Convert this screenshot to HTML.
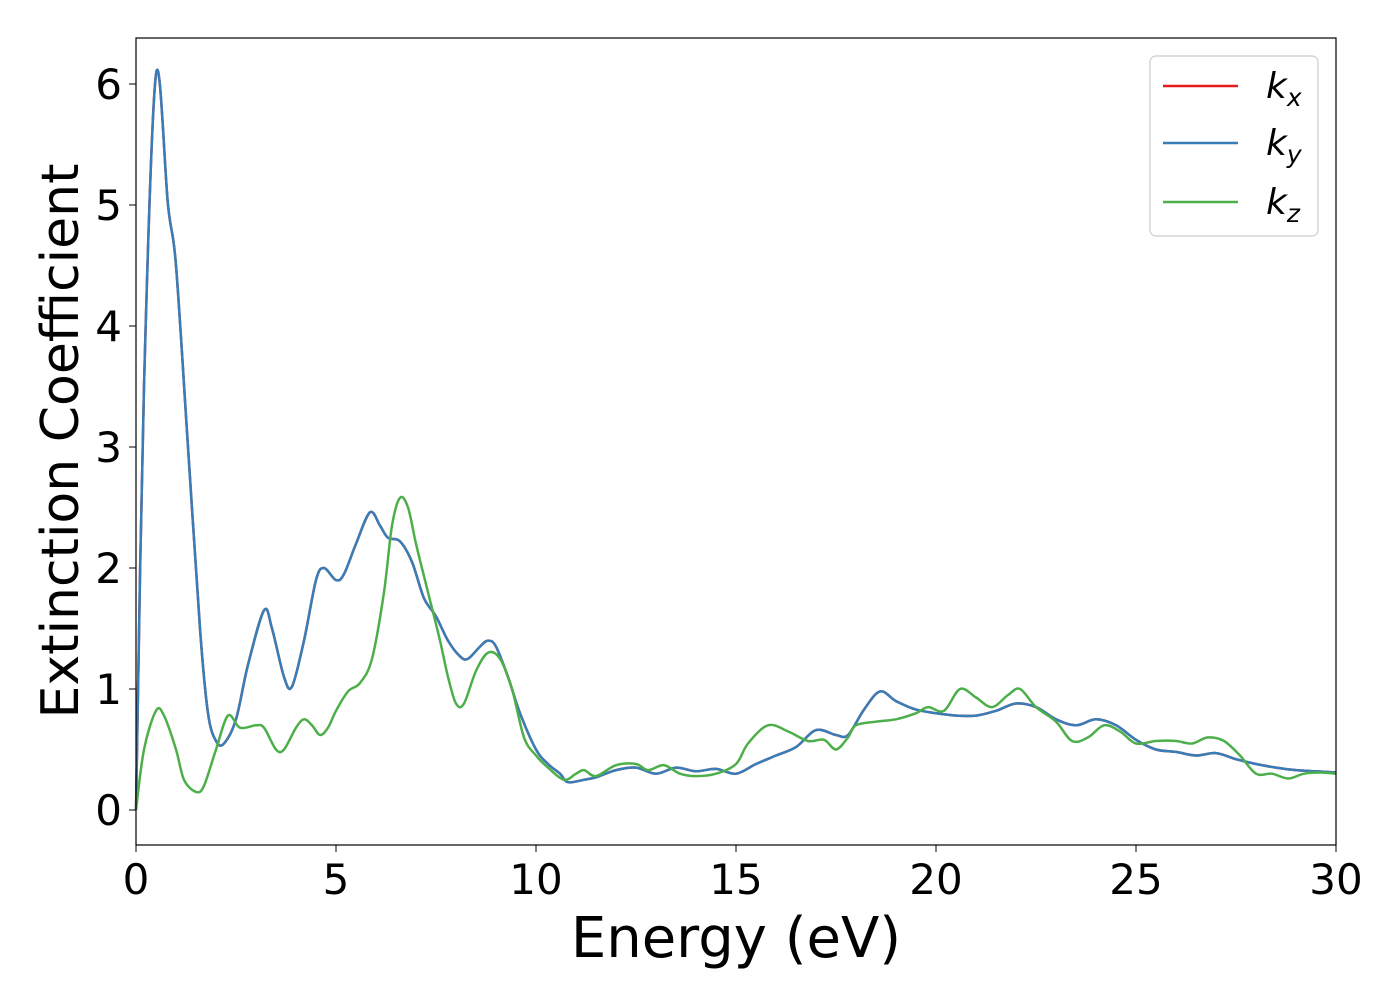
<!DOCTYPE html>
<html><head><meta charset="utf-8"><style>
body{margin:0;background:#fff}
svg text{font-family:"DejaVu Sans","Liberation Sans",sans-serif}
</style></head><body>
<svg id="chart" width="1400" height="1000" viewBox="0 0 1400 1000" xmlns="http://www.w3.org/2000/svg">
<rect width="1400" height="1000" fill="#fff"/>
<g id="plot"></g>
<rect x="136" y="38" width="1200" height="807" fill="none" stroke="#000" stroke-width="1.2"/>
<g id="ticks"></g>
<text x="736" y="957" font-size="56" text-anchor="middle">Energy (eV)</text>
<text transform="translate(78,441) rotate(-90)" font-size="52" text-anchor="middle">Extinction Coefficient</text>
<g>
<rect x="1150" y="56" width="168" height="180" rx="6" fill="#fff" stroke="#ccc" stroke-width="1.2"/>
<line x1="1163" y1="86" x2="1238" y2="86" stroke="#e41a1c" stroke-width="2.5"/>
<text x="1266" y="98" font-size="36" font-style="italic">k<tspan font-size="25" dy="8">x</tspan></text>
<line x1="1163" y1="143" x2="1238" y2="143" stroke="#377eb8" stroke-width="2.5"/>
<text x="1266" y="155" font-size="36" font-style="italic">k<tspan font-size="25" dy="8">y</tspan></text>
<line x1="1163" y1="202" x2="1238" y2="202" stroke="#4daf4a" stroke-width="2.5"/>
<text x="1266" y="214" font-size="36" font-style="italic">k<tspan font-size="25" dy="8">z</tspan></text>
</g>
</svg>
<script>
const energyXY=[0,0.2,0.5,0.8,1.0,1.3,1.6,1.8,2.0,2.2,2.5,2.8,3.2,3.4,3.7,3.9,4.2,4.5,4.7,5.0,5.2,5.5,5.85,6.1,6.3,6.6,6.9,7.2,7.5,7.8,8.1,8.3,8.6,8.8,9.0,9.3,9.6,10.0,10.3,10.6,10.8,11.2,11.5,12,12.5,13,13.5,14,14.5,15,15.5,16,16.5,17,17.5,17.8,18.2,18.6,19,19.5,20,20.5,21,21.5,22,22.5,23,23.5,24,24.5,25,25.5,26,26.5,27,27.5,28,28.5,29,29.5,30];
const kxValues=[0,3.5,6.08,5.0,4.5,3,1.5,0.8,0.57,0.55,0.75,1.2,1.65,1.5,1.1,1.02,1.4,1.9,2.0,1.9,1.95,2.2,2.46,2.35,2.25,2.22,2.05,1.75,1.6,1.4,1.27,1.25,1.35,1.4,1.35,1.1,0.8,0.5,0.38,0.3,0.23,0.25,0.27,0.33,0.35,0.3,0.35,0.32,0.34,0.3,0.38,0.45,0.52,0.66,0.62,0.62,0.83,0.98,0.9,0.83,0.8,0.78,0.78,0.82,0.88,0.85,0.75,0.7,0.75,0.7,0.58,0.5,0.48,0.45,0.47,0.42,0.38,0.35,0.33,0.32,0.31];
const kyValues=kxValues.slice();
const energyZ=[0,0.2,0.5,0.7,1.0,1.2,1.5,1.7,2.0,2.3,2.6,3.0,3.2,3.5,3.7,4.0,4.2,4.4,4.6,4.8,5.0,5.3,5.6,5.9,6.2,6.4,6.6,6.8,7.0,7.3,7.6,7.8,8.0,8.2,8.5,8.8,9.1,9.4,9.7,10.0,10.3,10.7,11,11.2,11.5,12,12.5,12.8,13.2,13.6,14,14.5,15,15.3,15.8,16.3,16.8,17.2,17.5,17.8,18,18.5,19,19.5,19.8,20.2,20.6,21,21.4,21.8,22.1,22.5,23,23.4,23.8,24.2,24.6,25,25.5,26,26.4,26.8,27.2,27.6,28,28.4,28.8,29.2,29.6,30];
const kzValues=[0,0.5,0.82,0.78,0.5,0.25,0.15,0.2,0.5,0.78,0.68,0.7,0.68,0.5,0.5,0.68,0.75,0.7,0.62,0.68,0.82,0.98,1.05,1.25,1.8,2.35,2.58,2.5,2.2,1.8,1.4,1.1,0.88,0.88,1.15,1.3,1.25,1.0,0.6,0.45,0.35,0.25,0.3,0.33,0.28,0.37,0.38,0.33,0.37,0.3,0.28,0.3,0.38,0.55,0.7,0.65,0.57,0.58,0.5,0.6,0.7,0.73,0.75,0.8,0.85,0.82,1.0,0.93,0.85,0.95,1.0,0.85,0.73,0.57,0.6,0.7,0.65,0.55,0.57,0.57,0.55,0.6,0.57,0.45,0.3,0.3,0.26,0.3,0.31,0.3];
const xTicks=[0,5,10,15,20,25,30];
const yTicks=[0,1,2,3,4,5,6];
const NS="http://www.w3.org/2000/svg";
const X=v=>136+v*40, Y=v=>810-v*121;
function pathD(xs,ys){
  const p=xs.map((x,i)=>[X(x),Y(ys[i])]);
  let d="M"+p[0][0]+","+p[0][1];
  for(let i=0;i<p.length-1;i++){
    const p0=p[Math.max(0,i-1)],p1=p[i],p2=p[i+1],p3=p[Math.min(p.length-1,i+2)];
    const c1=[p1[0]+(p2[0]-p0[0])/6,p1[1]+(p2[1]-p0[1])/6];
    const c2=[p2[0]-(p3[0]-p1[0])/6,p2[1]-(p3[1]-p1[1])/6];
    d+=` C${c1[0].toFixed(1)},${c1[1].toFixed(1)} ${c2[0].toFixed(1)},${c2[1].toFixed(1)} ${p2[0].toFixed(1)},${p2[1].toFixed(1)}`;
  }
  return d;
}
const plot=document.getElementById('plot');
[["kx-line",energyXY,kxValues,"#e41a1c"],["ky-line",energyXY,kyValues,"#377eb8"],["kz-line",energyZ,kzValues,"#4daf4a"]].forEach(s=>{
  const el=document.createElementNS(NS,'path');
  
  
  el.setAttribute('d',pathD(s[1],s[2]));
  el.setAttribute('fill','none');el.setAttribute('stroke',s[3]);el.setAttribute('stroke-width','2.5');
  plot.appendChild(el);
});
const tg=document.getElementById('ticks');
xTicks.forEach(v=>{
  const l=document.createElementNS(NS,'line');
  
  
  l.setAttribute('x1',X(v));l.setAttribute('x2',X(v));l.setAttribute('y1',845);l.setAttribute('y2',852);l.setAttribute('stroke','#000');
  tg.appendChild(l);
  const t=document.createElementNS(NS,'text');
  
  
  t.setAttribute('x',X(v));t.setAttribute('y',894);t.setAttribute('font-size','42');t.setAttribute('text-anchor','middle');
  t.textContent=v;tg.appendChild(t);
});
yTicks.forEach(v=>{
  const l=document.createElementNS(NS,'line');
  
  
  l.setAttribute('x1',129);l.setAttribute('x2',136);l.setAttribute('y1',Y(v));l.setAttribute('y2',Y(v));l.setAttribute('stroke','#000');
  tg.appendChild(l);
  const t=document.createElementNS(NS,'text');
  
  
  t.setAttribute('x',122);t.setAttribute('y',Y(v)+15);t.setAttribute('font-size','42');t.setAttribute('text-anchor','end');
  t.textContent=v;tg.appendChild(t);
});
</script>
</body></html>
